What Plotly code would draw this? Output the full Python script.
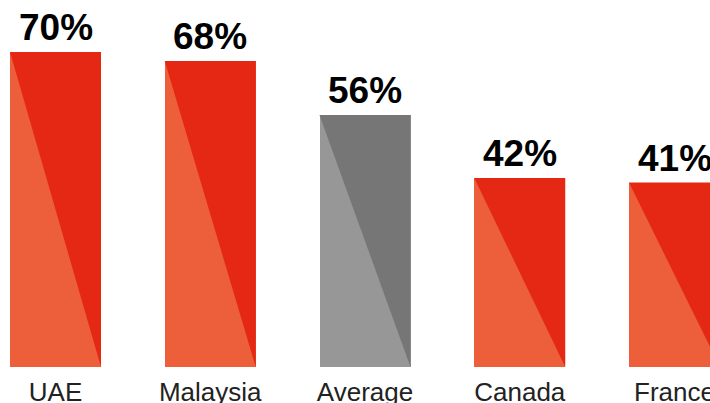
import plotly.graph_objects as go

categories = ["UAE", "Malaysia", "Average", "Canada", "France"]
values = [70, 68, 56, 42, 41]
labels = ["70%", "68%", "56%", "42%", "41%"]
light_colors = ["#EC5F3A", "#EC5F3A", "#979797", "#EC5F3A", "#EC5F3A"]
dark_colors = ["#E52814", "#E52814", "#767676", "#E52814", "#E52814"]

BAR_W = 0.588
xs = list(range(len(categories)))

fig = go.Figure()
# light base bars
fig.add_trace(go.Bar(
    x=xs, y=values, width=BAR_W,
    marker=dict(color=light_colors, line=dict(width=0)),
    hoverinfo="skip", showlegend=False,
))
# dark upper-right triangles
for x, v, c in zip(xs, values, dark_colors):
    fig.add_trace(go.Scatter(
        x=[x - BAR_W / 2, x + BAR_W / 2, x + BAR_W / 2, x - BAR_W / 2],
        y=[v, v, 0, v],
        fill="toself", fillcolor=c, mode="none",
        hoverinfo="skip", showlegend=False,
    ))

for x, v, t in zip(xs, values, labels):
    fig.add_annotation(
        x=x, y=v, text=t, showarrow=False, yanchor="bottom", yshift=2,
        font=dict(family="Liberation Sans, Arial, sans-serif", size=37, color="#000000", weight="bold"),
    )

fig.update_layout(
    width=710, height=403,
    margin=dict(l=0, r=0, t=0, b=36),
    paper_bgcolor="white", plot_bgcolor="white",
    bargap=0,
    xaxis=dict(
        range=[-0.3587, 4.2294], tickvals=xs, ticktext=categories,
        showgrid=False, zeroline=False, showline=False, ticks="",
        ticklabeloverflow="allow", ticklabelstandoff=7, automargin=False,
        tickfont=dict(family="Liberation Sans, Arial, sans-serif", size=26, color="#222222"),
    ),
    yaxis=dict(range=[0, 81.56], visible=False, showgrid=False, zeroline=False),
)

fig.write_html(
    "out.html",
    config={"displayModeBar": False},
    post_script="document.body.style.margin='0';document.body.style.overflow='hidden';",
)
